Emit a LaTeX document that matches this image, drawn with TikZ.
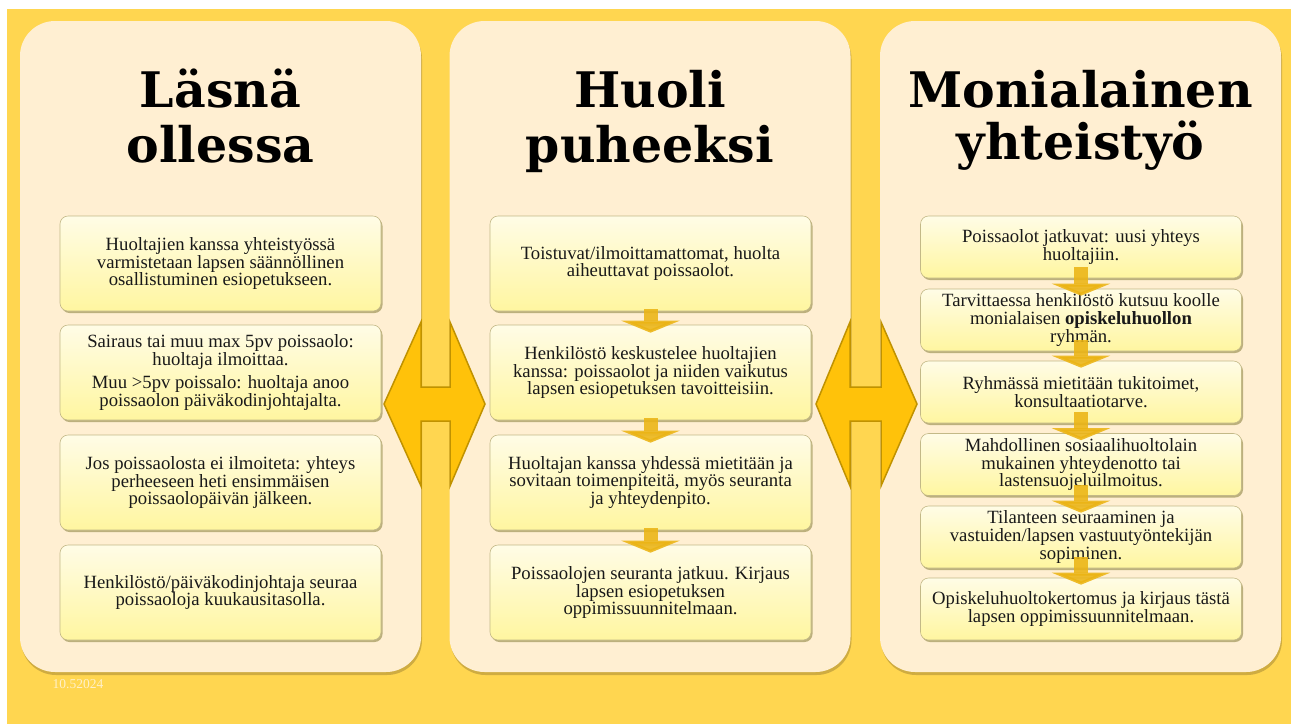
\documentclass[tikz,border=0pt]{standalone}
\usepackage{fontspec}
\setmainfont{Liberation Serif}
\newfontfamily\titlefont{DejaVu Serif}
\usetikzlibrary{arrows.meta,shadows}

\definecolor{bgyellow}{RGB}{255,214,80}
\definecolor{panelcream}{RGB}{255,239,210}
\definecolor{panelshadow}{RGB}{175,145,55}
\definecolor{boxtop}{RGB}{255,252,230}
\definecolor{boxbottom}{RGB}{255,246,160}
\definecolor{boxedge}{RGB}{195,185,135}
\definecolor{boxshadow}{RGB}{160,150,90}
\definecolor{textgrey}{RGB}{25,25,25}
\definecolor{arrowfill}{RGB}{255,194,10}
\definecolor{arrowedge}{RGB}{192,146,0}
\definecolor{arrowgold}{RGB}{235,180,20}
\definecolor{datecream}{RGB}{255,240,200}

\begin{document}
\begin{tikzpicture}[x=1pt,y=-1pt,
  panel/.style={fill=panelcream, rounded corners=35pt, minimum width=401pt, minimum height=651pt, inner sep=0pt,
    drop shadow={shadow xshift=1pt, shadow yshift=-3pt, fill=panelshadow, opacity=.6}},
  heading/.style={font=\titlefont\bfseries\fontsize{49}{55}\selectfont, inner sep=0pt, anchor=base},
  infobox/.style={draw=boxedge, line width=.6pt, rounded corners=8pt, top color=boxtop, bottom color=boxbottom,
    minimum width=321pt, inner sep=0pt, align=center, text=textgrey,
    font=\fontsize{18.7}{17.7}\selectfont,
    drop shadow={shadow xshift=1.5pt, shadow yshift=-2pt, fill=boxshadow, opacity=.7}},
  bigbox/.style={infobox, minimum height=95pt},
  smallbox/.style={infobox, minimum height=62pt},
  downarrow/.style={draw=arrowgold, line width=14pt, opacity=.88, -{Triangle[width=58pt,length=12pt]}},
  bigarrow/.style={fill=arrowfill, draw=arrowedge, line width=1.5pt, line join=miter}
]

\useasboundingbox (0,0) rectangle (1291,724);
\fill[white] (0,0) rectangle (1291,724);
\fill[bgyellow] (7,9) rectangle (1291,724);

\node[panel] (p1) at (220.5,346.5) {};
\node[panel] (p2) at (650,346.5) {};
\node[panel] (p3) at (1080.5,346.5) {};

\node[heading] (t1a) at (220.5,107) {Läsnä};
\node[heading] (t1b) at (220.5,162) {ollessa};
\node[heading] (t2a) at (650,107) {Huoli};
\node[heading] (t2b) at (650,162) {puheeksi};
\node[heading] (t3a) at (1080.5,107) {Monialainen};
\node[heading] (t3b) at (1080.5,159) {yhteistyö};

\node[bigbox] (b1) at (220.5,263.5) {Huoltajien kanssa yhteistyössä\\varmistetaan lapsen säännöllinen\\osallistuminen esiopetukseen.};
\node[bigbox] (b2) at (220.5,372.5) {Sairaus tai muu max 5pv poissaolo:\\huoltaja ilmoittaa.\\[5pt]Muu >5pv poissalo: huoltaja anoo\\poissaolon päiväkodinjohtajalta.};
\node[bigbox] (b3) at (220.5,482.5) {Jos poissaolosta ei ilmoiteta: yhteys\\perheeseen heti ensimmäisen\\poissaolopäivän jälkeen.};
\node[bigbox] (b4) at (220.5,592.5) {Henkilöstö/päiväkodinjohtaja seuraa\\poissaoloja kuukausitasolla.};

\node[bigbox] (h1) at (650.5,263.5) {Toistuvat/ilmoittamattomat, huolta\\aiheuttavat poissaolot.};
\node[bigbox] (h2) at (650.5,372.5) {Henkilöstö keskustelee huoltajien\\kanssa: poissaolot ja niiden vaikutus\\lapsen esiopetuksen tavoitteisiin.};
\node[bigbox] (h3) at (650.5,482.5) {Huoltajan kanssa yhdessä mietitään ja\\sovitaan toimenpiteitä, myös seuranta\\ja yhteydenpito.};
\node[bigbox] (h4) at (650.5,592.5) {Poissaolojen seuranta jatkuu. Kirjaus\\lapsen esiopetuksen\\oppimissuunnitelmaan.};

\node[smallbox] (m1) at (1081,247) {Poissaolot jatkuvat: uusi yhteys\\huoltajiin.};
\node[smallbox] (m2) at (1081,320) {Tarvittaessa henkilöstö kutsuu koolle\\monialaisen \textbf{opiskeluhuollon}\\ryhmän.};
\node[smallbox] (m3) at (1081,392) {Ryhmässä mietitään tukitoimet,\\konsultaatiotarve.};
\node[smallbox] (m4) at (1081,464.5) {Mahdollinen sosiaalihuoltolain\\mukainen yhteydenotto tai\\lastensuojeluilmoitus.};
\node[smallbox] (m5) at (1081,537) {Tilanteen seuraaminen ja\\vastuiden/lapsen vastuutyöntekijän\\sopiminen.};
\node[smallbox] (m6) at (1081,609) {Opiskeluhuoltokertomus ja kirjaus tästä\\lapsen oppimissuunnitelmaan.};

\draw[bigarrow] (384,404) -- (421,322) -- (421,387) -- (450,387) -- (450,322) -- (485,404)
  -- (450,486) -- (450,421) -- (421,421) -- (421,486) -- cycle;
\draw[bigarrow] (816,404) -- (850,322) -- (850,387) -- (881,387) -- (881,322) -- (917,404)
  -- (881,486) -- (881,421) -- (850,421) -- (850,486) -- cycle;

\draw[downarrow] ([yshift=2pt]h1.south) -- ([yshift=-8pt]h2.north);
\draw[downarrow] ([yshift=2pt]h2.south) -- ([yshift=-8pt]h3.north);
\draw[downarrow] ([yshift=2pt]h3.south) -- ([yshift=-8pt]h4.north);

\draw[downarrow] ([yshift=11pt]m1.south) -- ([yshift=-7pt]m2.north);
\draw[downarrow] ([yshift=11pt]m2.south) -- ([yshift=-7pt]m3.north);
\draw[downarrow] ([yshift=11pt]m3.south) -- ([yshift=-7pt]m4.north);
\draw[downarrow] ([yshift=11pt]m4.south) -- ([yshift=-7pt]m5.north);
\draw[downarrow] ([yshift=11pt]m5.south) -- ([yshift=-7pt]m6.north);

\node[text=datecream, font=\fontsize{13.5}{13.5}\selectfont] (date) at (78,684) {10.52024};

\end{tikzpicture}
\end{document}
